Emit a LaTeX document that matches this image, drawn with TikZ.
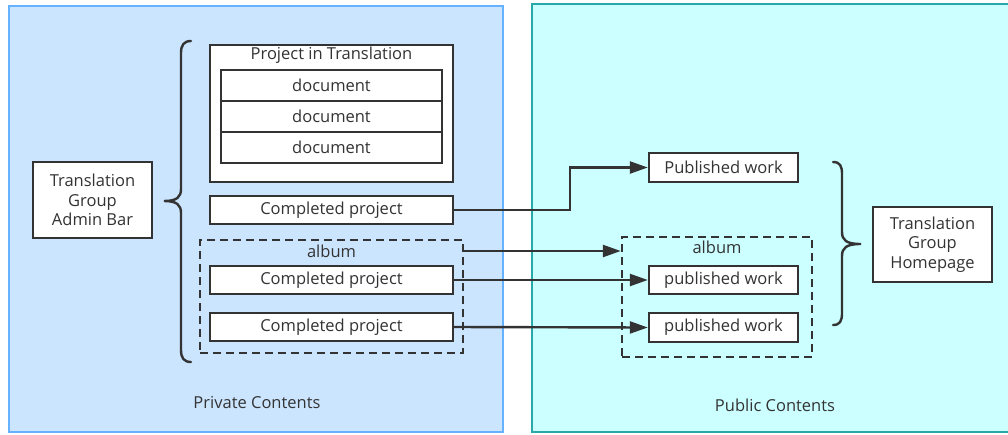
\documentclass[tikz,border=0pt]{standalone}
\usepackage{fontspec}
\setmainfont{Open Sans}
\usetikzlibrary{arrows.meta}
\definecolor{privfill}{RGB}{204,229,255}
\definecolor{privline}{RGB}{102,178,255}
\definecolor{pubfill}{RGB}{204,255,255}
\definecolor{publine}{RGB}{40,168,168}
\definecolor{ink}{RGB}{51,51,51}
\tikzset{
  panel/.style={line width=2pt},
  box/.style={draw=ink, fill=white, line width=2.4pt, inner sep=0pt, align=center, text=ink},
  group/.style={draw=ink, line width=2.4pt, dash pattern=on 8pt off 5pt, inner sep=0pt},
  lbl/.style={text=ink, inner sep=0pt},
  link/.style={draw=ink, line width=2.4pt, -{Triangle[length=18pt,width=12pt]}},
  bracestroke/.style={draw=ink, line width=2.4pt, line cap=round},
}
\begin{document}
\begin{tikzpicture}[x=1pt, y=-1pt, font=\fontsize{16.5}{18}\selectfont]
\useasboundingbox (0,0) rectangle (1008,434);
\clip (0,0) rectangle (1008,434);

% the two content areas
\draw[panel, fill=privfill, draw=privline] (9,6) rectangle (503,432);
\draw[panel, fill=pubfill, draw=publine] (532,4) rectangle (1020,432);
\node[lbl] (privlbl) at (257,403) {Private Contents};
\node[lbl] (publbl) at (775,405) {Public Contents};

% private side
\node[box, minimum width=119pt, minimum height=76pt, font=\fontsize{16.5}{19.5}\selectfont]
  (admin) at (92.5,200) {Translation\\Group\\Admin Bar};

\node[box, minimum width=243pt, minimum height=137pt] (pit) at (331.5,113.5) {};
\node[lbl] (pittitle) at (331.5,55) {Project in Translation};
\node[box, minimum width=221pt, minimum height=31pt] (doc1) at (331.5,85.5) {document};
\node[box, minimum width=221pt, minimum height=31pt] (doc2) at (331.5,116.5) {document};
\node[box, minimum width=221pt, minimum height=31pt] (doc3) at (331.5,147.5) {document};

\node[box, minimum width=243pt, minimum height=28pt] (cp1) at (331.5,210) {Completed project};

\node[group, minimum width=263pt, minimum height=113pt] (albumL) at (331.5,296.5) {};
\node[lbl] (albL) at (331.5,251) {album};
\node[box, minimum width=243pt, minimum height=28pt] (cp2) at (331.5,280) {Completed project};
\node[box, minimum width=243pt, minimum height=28pt] (cp3) at (331.5,327) {Completed project};

% public side
\node[box, minimum width=149pt, minimum height=29pt] (pw1) at (723.5,167.5) {Published work};
\node[group, minimum width=190pt, minimum height=120pt] (albumR) at (717,297) {};
\node[lbl] (albR) at (717,247) {album};
\node[box, minimum width=149pt, minimum height=28pt] (pw2) at (723.5,280) {published work};
\node[box, minimum width=149pt, minimum height=29pt] (pw3) at (723.5,327.5) {published work};

\node[box, minimum width=119pt, minimum height=75pt, font=\fontsize{16.5}{19.5}\selectfont]
  (home) at (932.5,244.5) {Translation\\Group\\Homepage};

% braces
\draw[bracestroke] (191,41) .. controls (184,41) and (181,45) .. (181,53)
  -- (181,189) .. controls (181,197) and (177,201) .. (164,201)
  .. controls (177,201) and (181,205) .. (181,213)
  -- (181,350) .. controls (181,358) and (184,362) .. (191,362);
\draw[bracestroke] (833,162) .. controls (840,162) and (842,166) .. (842,174)
  -- (842,232) .. controls (842,240) and (846,244) .. (861,244)
  .. controls (846,244) and (842,248) .. (842,256)
  -- (842,313) .. controls (842,321) and (840,325) .. (833,325);

% publishing links
\draw[link] (cp1.east) -- ++(116,0) |- (pw1.west);
\draw[link] (albL -| albumL.east) -- (albL -| albumR.west);
\draw[link] (cp2.east) -- (pw2.west);
\draw[link] (cp3.east) -- (pw3.west);
\end{tikzpicture}
\end{document}
